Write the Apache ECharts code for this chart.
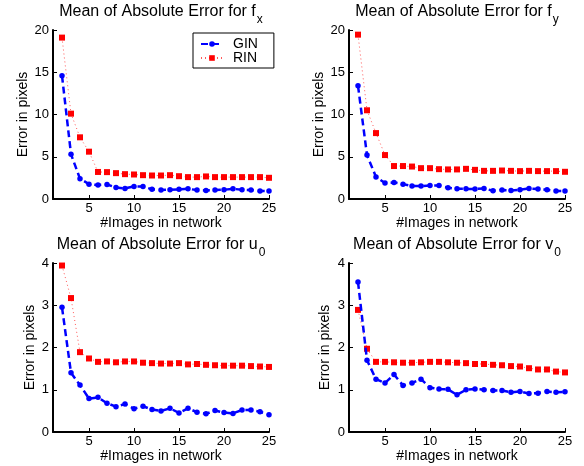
<!DOCTYPE html>
<html>
<head>
<meta charset="utf-8">
<title>Mean of Absolute Error</title>
<script src="https://cdn.jsdelivr.net/npm/echarts@6/dist/echarts.min.js"></script>
<style>
html,body{margin:0;padding:0;background:#fff;}
#main{width:584px;height:466px;}
</style>
</head>
<body>
<div id="main"></div>
<script>
/*数据*/
var images=[2,3,4,5,6,7,8,9,10,11,12,13,14,15,16,17,18,19,20,21,22,23,24,25];

var gin_fx=[14.6,5.3,2.4,1.76,1.65,1.72,1.37,1.25,1.49,1.49,1.14,1.06,1.1,1.14,1.2,1.06,1.02,1.06,1.1,1.2,1.1,1.06,0.94,0.94];
var rin_fx=[19.1,10.1,7.3,5.6,3.2,3.18,3.06,2.94,2.9,2.82,2.78,2.78,2.82,2.7,2.59,2.59,2.67,2.59,2.59,2.59,2.59,2.59,2.59,2.51];

var gin_fy=[13.4,5.2,2.6,1.9,1.96,1.76,1.53,1.53,1.6,1.6,1.33,1.2,1.2,1.18,1.25,0.98,1.06,1.02,1.1,1.25,1.18,1.1,0.94,0.94];
var rin_fy=[19.45,10.5,7.8,5.2,3.9,3.9,3.84,3.65,3.65,3.53,3.5,3.5,3.57,3.45,3.33,3.33,3.37,3.33,3.3,3.33,3.3,3.3,3.3,3.22];

var gin_u0=[2.95,1.4,1.11,0.79,0.82,0.68,0.6,0.66,0.55,0.61,0.53,0.5,0.56,0.45,0.56,0.47,0.43,0.51,0.46,0.44,0.52,0.52,0.48,0.41];
var rin_u0=[3.94,3.17,1.89,1.74,1.66,1.67,1.65,1.67,1.67,1.64,1.63,1.62,1.62,1.63,1.6,1.61,1.59,1.58,1.57,1.57,1.57,1.56,1.55,1.54];

var gin_v0=[3.55,1.7,1.25,1.16,1.36,1.1,1.16,1.25,1.05,1.02,1.01,0.88,1.0,1.02,1.0,0.98,0.98,0.94,0.96,0.91,0.92,0.96,0.94,0.95];
var rin_v0=[2.89,1.97,1.66,1.66,1.65,1.64,1.64,1.65,1.66,1.66,1.65,1.64,1.63,1.61,1.61,1.59,1.58,1.56,1.55,1.51,1.48,1.48,1.43,1.41];

var xTicks=[5,10,15,20,25];
var panelTitles=['f','f','u','v'];
var panelSubs=['x','y','0','0'];
var yMax=[20,20,4,4];
var yStep=[5,5,1,1];

var font='"Liberation Sans", Arial, Helvetica, sans-serif';

//面板位置
var panels=[
    {left:53,top:30,nameGap:22},
    {left:349,top:30,nameGap:23},
    {left:53,top:263,nameGap:16},
    {left:349,top:263,nameGap:17}
];
var gW=216,gH=169;

function pairs(ys){
    var arr=[];
    for(var i=0;i<images.length;i++){
        arr.push([images[i],ys[i]]);
    }
    return arr;
}

var seriesData=[
    [gin_fx,rin_fx],
    [gin_fy,rin_fy],
    [gin_u0,rin_u0],
    [gin_v0,rin_v0]
];

var grids=[],xAxes=[],yAxes=[],titles=[],series=[];
for(var p=0;p<4;p++){
    var pn=panels[p];
    grids.push({left:pn.left,top:pn.top,width:gW,height:gH});
    titles.push({
        text:'{a|Mean of Absolute Error for '+panelTitles[p]+'}{s|'+panelSubs[p]+'}',
        left:pn.left+gW/2,
        top:pn.top-26,
        textAlign:'center',
        padding:0,
        textStyle:{
            fontWeight:'normal',
            rich:{
                a:{fontFamily:font,fontSize:16,fontWeight:'normal',color:'#000',verticalAlign:'top',lineHeight:18},
                s:{fontFamily:font,fontSize:12,fontWeight:'normal',color:'#000',verticalAlign:'top',padding:[10,0,0,1],lineHeight:13}
            }
        }
    });
    xAxes.push({
        type:'value',gridIndex:p,min:1,max:25,
        name:'#Images in network',nameLocation:'middle',nameGap:14,
        nameTextStyle:{fontFamily:font,fontSize:14,color:'#000'},
        axisLine:{lineStyle:{color:'#000',width:2}},
        axisTick:{inside:true,length:4,customValues:xTicks,lineStyle:{color:'#000',width:1}},
        axisLabel:{customValues:xTicks,margin:3,fontFamily:font,fontSize:13,color:'#000'},
        splitLine:{show:false}
    });
    yAxes.push({
        type:'value',gridIndex:p,min:0,max:yMax[p],interval:yStep[p],
        name:'Error in pixels',nameLocation:'middle',nameGap:pn.nameGap,
        nameTextStyle:{fontFamily:font,fontSize:14,color:'#000'},
        axisLine:{show:true,lineStyle:{color:'#000',width:2}},
        axisTick:{show:true,inside:true,length:4,lineStyle:{color:'#000',width:1}},
        axisLabel:{margin:4,fontFamily:font,fontSize:13,color:'#000'},
        splitLine:{show:false}
    });
    series.push({
        name:'GIN',type:'line',xAxisIndex:p,yAxisIndex:p,
        data:pairs(seriesData[p][0]),
        symbol:'circle',symbolSize:5.5,
        itemStyle:{color:'#0000ff'},
        lineStyle:{color:'#0000ff',width:2.5,type:[7,4]},
        z:3
    });
    series.push({
        name:'RIN',type:'line',xAxisIndex:p,yAxisIndex:p,
        data:pairs(seriesData[p][1]),
        symbol:'rect',symbolSize:6,
        itemStyle:{color:'#ff0000'},
        lineStyle:{color:'#ff3030',width:1,type:[1,3],opacity:0.8},
        z:2
    });
}

var myChart=echarts.init(document.getElementById('main'),null,{renderer:'canvas'});
myChart.setOption({
    animation:false,
    backgroundColor:'#fff',
    title:titles,
    legend:{
        data:['GIN','RIN'],
        orient:'vertical',
        left:193,top:33,
        itemWidth:22,itemHeight:7,itemGap:0,
        padding:[4,16,3,7],
        borderColor:'#000',borderWidth:1,
        textStyle:{fontFamily:font,fontSize:14,lineHeight:14,color:'#000',padding:[0,0,0,5]}
    },
    grid:grids,
    xAxis:xAxes,
    yAxis:yAxes,
    series:series
});
</script>
</body>
</html>
